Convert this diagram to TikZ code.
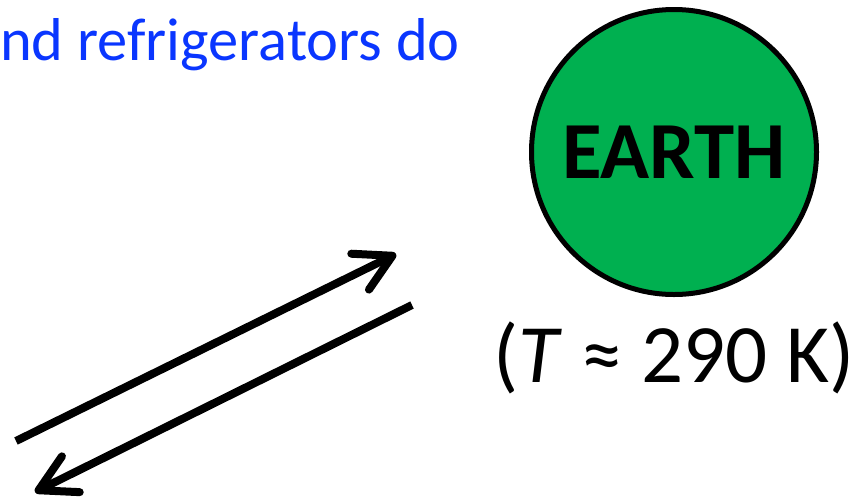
\documentclass[tikz,border=0pt]{standalone}
\usepackage{fontspec}
\setmainfont{Carlito}
\usepackage{tikz}
\usetikzlibrary{arrows.meta,positioning}
\definecolor{earthgreen}{HTML}{00B050}
\definecolor{textblue}{HTML}{0A36FF}

\begin{document}
\begin{tikzpicture}[
			x=1pt,y=-1pt,
			planet/.style={circle,draw=black,line width=5pt,fill=earthgreen,inner sep=0pt,minimum size=285pt,font=\fontsize{81}{90}\selectfont\bfseries},
			flow/.style={-{Straight Barb[length=36pt,width=40pt,line cap=round,line join=round]},line width=8pt,line cap=butt}
			]
			\useasboundingbox (0,0) rectangle (859,499);
			\node[anchor=base west,inner sep=0pt,text=textblue,font=\fontsize{60.5}{66}\selectfont] (head) at (0,60) {nd refrigerators do};
			\node[planet] (earth) at (674,152) {EARTH};
			\node[anchor=base,inner sep=0pt,font=\fontsize{83}{90}\selectfont] (temp) at (674,382) {(\textit{T} ≈ 290 K)};
			\coordinate (upfrom) at (16,441);
			\coordinate (upto) at (396,254);
			\coordinate (downfrom) at (412,305);
			\coordinate (downto) at (35,492);
			\draw[flow] (upfrom)--(upto);
			\draw[flow] (downfrom)--(downto);
		\end{tikzpicture}
\end{document}
